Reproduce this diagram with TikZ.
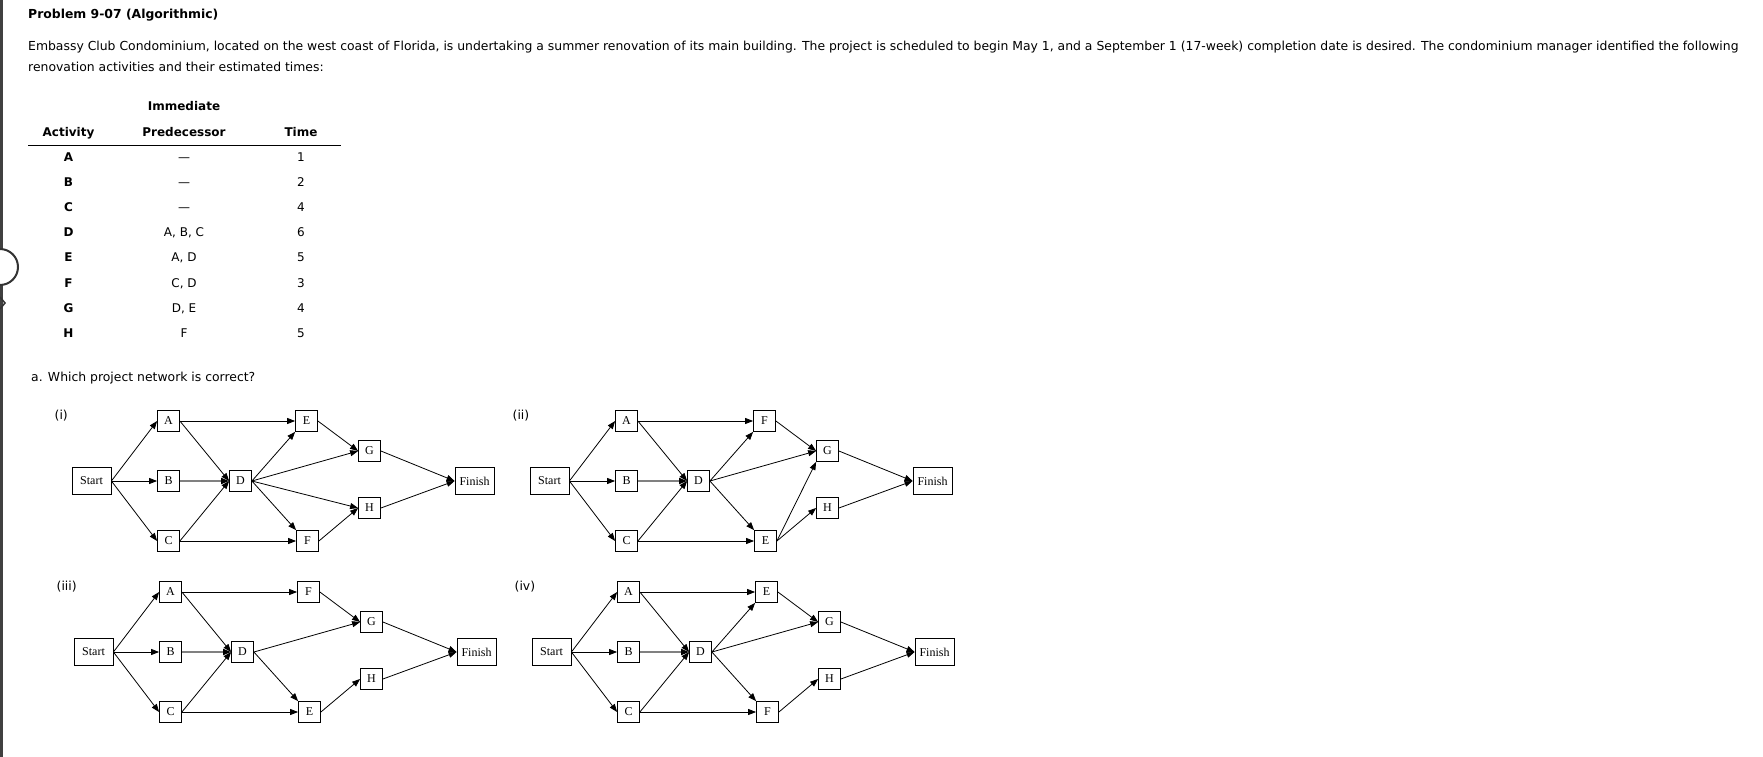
\documentclass[tikz,border=0pt]{standalone}
\usepackage{fontspec}
\setmainfont{DejaVu Sans}
\newfontfamily\tnr{Liberation Serif}
\usetikzlibrary{arrows.meta}
\tikzset{
  txt/.style={inner sep=0pt,font=\fontsize{12.4}{14}\selectfont},
  btxt/.style={inner sep=0pt,font=\fontsize{12.4}{14}\selectfont\bfseries},
  ttxt/.style={inner sep=0pt,font=\fontsize{12}{14}\selectfont},
  tbtxt/.style={inner sep=0pt,font=\fontsize{12}{14}\selectfont\bfseries},
  box/.style={draw,line width=0.8pt,inner sep=0pt,minimum width=22pt,minimum height=21pt,font=\tnr\fontsize{12}{13}\selectfont},
  wbox/.style={box,minimum width=39pt,minimum height=27pt},
  edge/.style={line width=0.8pt,-{Triangle[length=8pt,width=6pt]}},
  gedge/.style={edge,draw=black!50,line width=1.8pt,-{Triangle[length=8pt,width=6pt,fill=black,color=black]}},
}
\newcommand{\net}[7]{%
  \node[txt,anchor=base west] (#3lab) at (#1-37,#2-62) {#6};
  \node[wbox] (#3S) at (#1,#2) {Start};
  \node[box] (#3A) at (#1+77,#2-60) {A};
  \node[box] (#3B) at (#1+77,#2) {B};
  \node[box] (#3C) at (#1+77,#2+60) {C};
  \node[box] (#3D) at (#1+149,#2) {D};
  \node[box] (#3T) at (#1+215,#2-60) {#4};
  \node[box] (#3U) at (#1+216,#2+60) {#5};
  \node[box] (#3G) at (#1+278,#2-30) {G};
  \node[box] (#3H) at (#1+278,#2+27) {H};
  \node[wbox] (#3F) at (#1+383,#2) {Finish};
  \draw[edge] (#3S.east) -- (#3A.west);
  \draw[edge] (#3S.east) -- (#3B.west);
  \draw[edge] (#3S.east) -- (#3C.west);
  \draw[edge] (#3A.east) -- (#3T.west);
  \draw[edge] (#3A.east) -- (#3D.west);
  \draw[gedge] (#3B.east) -- (#3D.west);
  \draw[edge] (#3C.east) -- (#3D.west);
  \draw[edge] (#3C.east) -- (#3U.west);
  \draw[edge] (#3D.east) -- (#3G.west);
  \draw[edge] (#3G.east) -- (#3F.west);
  \draw[edge] (#3H.east) -- (#3F.west);
  #7
}
\begin{document}
\begin{tikzpicture}[x=1pt,y=-1pt]
\useasboundingbox (0,0) rectangle (1763,757);
\fill[white] (0,0) rectangle (1763,757);
% left bar and tab
\fill[black!75] (0,0) rectangle (2.5,757);
\draw[line width=2pt,black!80,fill=white] (0,285) arc[start angle=90,end angle=-90,radius=18];
\draw[line width=1.5pt,black!80] (0,297) -- (5,303) -- (0,309);
% texts
\node[btxt,anchor=base west] (title) at (28,19) {Problem 9-07 (Algorithmic)};
\node[txt,anchor=base west] (l1) at (28,51) {Embassy Club Condominium, located on the west coast of Florida, is undertaking a summer renovation of its main building. The project is scheduled to begin May 1, and a September 1 (17-week) completion date is desired. The condominium manager identified the following};
\node[txt,anchor=base west] (l2) at (28,72) {renovation activities and their estimated times:};
% table
\node[tbtxt,anchor=base] (h0) at (184,111) {Immediate};
\node[tbtxt,anchor=base] (h1) at (68.5,136) {Activity};
\node[tbtxt,anchor=base] (h2) at (184,136) {Predecessor};
\node[tbtxt,anchor=base] (h3) at (301,136) {Time};
\draw[line width=1pt] (28,145) -- (341,145);
\foreach \a/\p/\t [count=\i from 0] in {A/---/1,B/---/2,C/---/4,D/{A, B, C}/6,E/{A, D}/5,F/{C, D}/3,G/{D, E}/4,H/F/5}{
  \node[tbtxt,anchor=base] (ra\i) at (68.5,161.5+25.1*\i) {\a};
  \node[ttxt,anchor=base] (rp\i) at (184,161.5+25.1*\i) {\p};
  \node[ttxt,anchor=base] (rt\i) at (301,161.5+25.1*\i) {\t};
}
\node[txt,anchor=base west] (q) at (31,381) {a. Which project network is correct?};
% networks
\net{91.5}{481}{a}{E}{F}{(i)}{%
  \draw[edge] (aD.east) -- (aT.south west);
  \draw[edge] (aD.east) -- (aH.west);
  \draw[edge] (aD.east) -- (aU.north west);
  \draw[edge] (aT.east) -- (aG.west);
  \draw[edge] (aU.east) -- (aH.west);}
\net{549.5}{481}{b}{F}{E}{(ii)}{%
  \draw[edge] (bD.east) -- (bT.south west);
  \draw[edge] (bD.east) -- (bU.north west);
  \draw[edge] (bT.east) -- (bG.west);
  \draw[edge] (bU.east) -- (bG.south west);
  \draw[edge] (bU.east) -- (bH.west);}
\net{93.5}{652}{c}{F}{E}{(iii)}{%
  \draw[edge] (cD.east) -- (cU.north west);
  \draw[edge] (cT.east) -- (cG.west);
  \draw[edge] (cU.east) -- (cH.west);}
\net{551.5}{652}{d}{E}{F}{(iv)}{%
  \draw[edge] (dD.east) -- (dT.south west);
  \draw[edge] (dD.east) -- (dU.north west);
  \draw[edge] (dT.east) -- (dG.west);
  \draw[edge] (dU.east) -- (dH.west);}
\end{tikzpicture}
\end{document}
